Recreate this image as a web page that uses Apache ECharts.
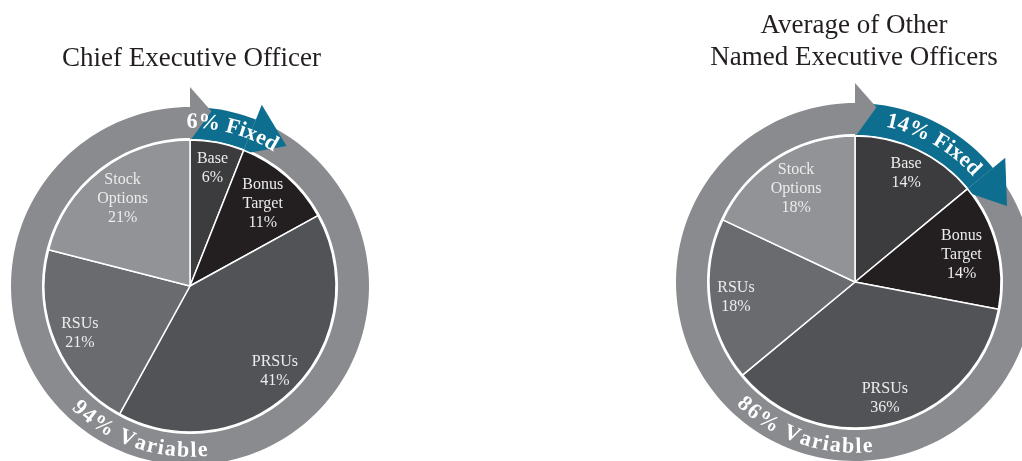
<!DOCTYPE html>
<html><head><meta charset="utf-8">
<script src="https://cdn.jsdelivr.net/npm/echarts@6/dist/echarts.min.js"></script>
<style>html,body{margin:0;padding:0;background:#fff}#c{width:1022px;height:461px}</style>
</head><body><div id="c"></div>
<script>
// ---- data ----
const categories = ['Base', 'Bonus Target', 'PRSUs', 'RSUs', 'Stock Options'];
const labelNames = ['Base', 'Bonus\nTarget', 'PRSUs', 'RSUs', 'Stock\nOptions'];
const ceoValues = [6, 11, 41, 21, 21];
const neoValues = [14, 14, 36, 18, 18];
const ceoFixedVariable = [6, 94];
const neoFixedVariable = [14, 86];
const chartTitles = ['Chief Executive Officer', 'Average of Other\nNamed Executive Officers'];
const ringWords = ['Fixed', 'Variable'];

// ---- styles / layout ----
const sliceColors = ['#3c3c3e', '#231f20', '#525357', '#6a6b6f', '#929396'];
const ringGray = '#8a8b8f';
const ringBlue = '#0d6e8f';
const serif = '"Liberation Serif", "Times New Roman", serif';
const R = 146, rIn = 148, rOut = 179;
const charts = [
  { cx: 190, cy: 286, values: ceoValues, fv: ceoFixedVariable, title: chartTitles[0], titleLeft: 186.5, titleTop: 38 },
  { cx: 855, cy: 282, values: neoValues, fv: neoFixedVariable, title: chartTitles[1], titleLeft: 849, titleTop: 5 }
];

const ctx = document.createElement('canvas').getContext('2d');
function pt(c, deg, r) {
  const t = deg * Math.PI / 180;
  return [c.cx + r * Math.sin(t), c.cy - r * Math.cos(t)];
}
function arcBand(c, a0, a1, r0, r1) {
  const pts = [], n = Math.max(4, Math.ceil(Math.abs(a1 - a0) / 2));
  for (let i = 0; i <= n; i++) pts.push(pt(c, a0 + (a1 - a0) * i / n, r1));
  for (let i = n; i >= 0; i--) pts.push(pt(c, a0 + (a1 - a0) * i / n, r0));
  return pts;
}
function arcText(c, str, centerDeg, r, dir, font, spacing) {
  ctx.font = font;
  const chars = [...str];
  const w = chars.map(ch => ctx.measureText(ch).width + spacing);
  const total = w.reduce((a, b) => a + b, 0);
  const totalDeg = total / r * 180 / Math.PI;
  const startDeg = centerDeg - dir * totalDeg / 2;
  let acc = 0; const els = [];
  chars.forEach((ch, i) => {
    const mid = acc + w[i] / 2; acc += w[i];
    if (ch === ' ') return;
    const deg = startDeg + dir * (mid / r) * 180 / Math.PI;
    const p = pt(c, deg, r);
    const t = deg * Math.PI / 180;
    els.push({
      type: 'text', x: p[0], y: p[1], z: 30, silent: true,
      rotation: dir > 0 ? -t : -(t - Math.PI),
      style: { text: ch, font, fill: '#ffffff', align: 'center', verticalAlign: 'middle',
        shadowColor: 'rgba(0,0,0,0.65)', shadowBlur: 3, shadowOffsetX: 1.5, shadowOffsetY: 1.5 }
    });
  });
  return els;
}

const graphics = [];
const series = [];
const titles = [];
const headDeg = 13;
charts.forEach(c => {
  const fixedDeg = c.fv[0] / 100 * 360;
  // gray ring body
  graphics.push({ type: 'polygon', z: 5, silent: true, shape: { points: arcBand(c, fixedDeg, 360, rIn, rOut) }, style: { fill: ringGray } });
  // blue fixed arrow
  graphics.push({ type: 'polygon', z: 6, silent: true, shape: { points: arcBand(c, 0, fixedDeg, rIn - 1, rOut) }, style: { fill: ringBlue } });
  graphics.push({ type: 'polygon', z: 6, silent: true, shape: { points: [pt(c, fixedDeg, rIn - 6), pt(c, fixedDeg, rOut + 16), pt(c, fixedDeg + headDeg, 170)] }, style: { fill: ringBlue } });
  // gray arrow head at 12 o'clock
  graphics.push({ type: 'polygon', z: 7, silent: true, shape: { points: [pt(c, 0, rIn - 3), pt(c, 0, rOut + 20), pt(c, 7, 176)] }, style: { fill: ringGray } });
  // ring texts
  const font = 'bold 22px ' + serif;
  arcText(c, c.fv[0] + '% ' + ringWords[0], (fixedDeg + headDeg) / 2 - 2, 164, 1, font, 0.5).forEach(e => graphics.push(e));
  arcText(c, c.fv[1] + '% ' + ringWords[1], 199, 165, -1, font, 1.2).forEach(e => graphics.push(e));

  const data = categories.map((n, i) => ({ name: n, value: c.values[i], itemStyle: { color: sliceColors[i] } }));
  series.push({
    type: 'pie', center: [c.cx, c.cy], radius: [0, R], startAngle: 90, clockwise: true,
    silent: true, z: 10, label: { show: false }, labelLine: { show: false },
    itemStyle: { borderColor: '#ffffff', borderWidth: 1.5 },
    emphasis: { disabled: true }, data
  });
  // label rings (transparent) for 2-line and 3-line labels
  [[[0, 2, 3], 86, 148], [[1, 4], 70, 144]].forEach(([idx, r0, r1]) => {
    series.push({
      type: 'pie', center: [c.cx, c.cy], radius: [r0, r1], startAngle: 90, clockwise: true,
      silent: true, z: 12, labelLine: { show: false }, emphasis: { disabled: true },
      itemStyle: { color: 'rgba(0,0,0,0)', borderWidth: 0 },
      data: categories.map((n, i) => ({
        name: n, value: c.values[i],
        label: {
          show: idx.includes(i), position: 'inside', color: '#ececec',
          fontFamily: serif, fontSize: 16, lineHeight: 19,
          formatter: labelNames[i] + '\n' + c.values[i] + '%'
        }
      }))
    });
  });
  titles.push({
    text: c.title, left: c.titleLeft, top: c.titleTop, textAlign: 'center',
    textStyle: { fontFamily: serif, fontSize: 27, fontWeight: 'normal', color: '#231f20', lineHeight: 32 }
  });
});

const chart = echarts.init(document.getElementById('c'));
chart.setOption({
  animation: false,
  backgroundColor: '#ffffff',
  title: titles,
  series,
  graphic: graphics
});
</script>
</body></html>
